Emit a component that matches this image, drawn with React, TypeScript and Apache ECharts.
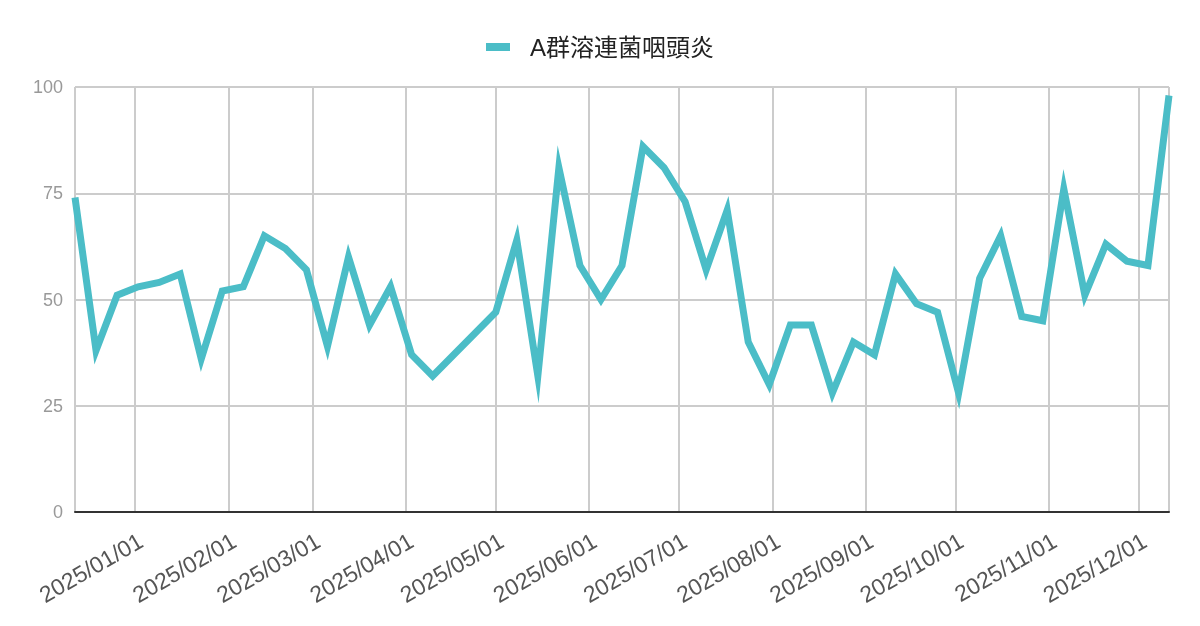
import {useEffect, useRef} from 'react';
import * as echarts from 'echarts';

const seriesName = 'A群溶連菌咽頭炎';

const weeks = [
    '2024-12-12', '2024-12-19', '2024-12-26',
    '2025-01-02', '2025-01-09', '2025-01-16', '2025-01-23', '2025-01-30',
    '2025-02-06', '2025-02-13', '2025-02-20', '2025-02-27',
    '2025-03-06', '2025-03-13', '2025-03-20', '2025-03-27',
    '2025-04-03', '2025-04-10', '2025-04-17', '2025-04-24',
    '2025-05-01', '2025-05-08', '2025-05-15', '2025-05-22', '2025-05-29',
    '2025-06-05', '2025-06-12', '2025-06-19', '2025-06-26',
    '2025-07-03', '2025-07-10', '2025-07-17', '2025-07-24', '2025-07-31',
    '2025-08-07', '2025-08-14', '2025-08-21', '2025-08-28',
    '2025-09-04', '2025-09-11', '2025-09-18', '2025-09-25',
    '2025-10-02', '2025-10-09', '2025-10-16', '2025-10-23', '2025-10-30',
    '2025-11-06', '2025-11-13', '2025-11-20', '2025-11-27',
    '2025-12-04', '2025-12-11'
];

const cases = [
    74, 38, 51,
    53, 54, 56, 36, 52,
    53, 65, 62, 57,
    39, 60, 44, 53,
    37, 32, 37, 42,
    47, 64, 32, 81, 58,
    50, 58, 86, 81,
    73, 57, 71, 40, 30,
    44, 44, 28, 40,
    37, 56, 49, 47,
    28, 55, 65, 46, 45,
    76, 51, 63, 59,
    58, 98
];

const yTicks = [0, 25, 50, 75, 100];

const LINE_COLOR = '#4bbdc7';
const FONT = '"Liberation Sans", Arial, "Noto Sans CJK JP", sans-serif';

export default function App() {
    const ref = useRef<HTMLDivElement | null>(null);

    useEffect(() => {
        if (!ref.current) return;
        const chart = echarts.init(ref.current, null, {renderer: 'svg'});
        chart.setOption({
            animation: false,
            textStyle: {fontFamily: FONT},
            legend: {
                top: 30,
                left: 'center',
                icon: 'rect',
                itemWidth: 24,
                itemHeight: 8,
                textStyle: {
                    fontSize: 24,
                    color: '#222',
                    padding: [0, 0, 0, 15],
                    fontFamily: FONT
                },
                data: [seriesName]
            },
            grid: {left: 75, right: 31, top: 87, bottom: 114},
            xAxis: {
                type: 'time',
                min: weeks[0],
                max: weeks[weeks.length - 1],
                splitNumber: 12,
                axisLine: {show: true, lineStyle: {color: '#333', width: 2}},
                axisTick: {show: false},
                splitLine: {show: true, lineStyle: {color: '#ccc', width: 2}},
                axisLabel: {
                    rotate: 30,
                    fontSize: 23,
                    color: '#555',
                    margin: 17,
                    verticalAlign: 'top',
                    formatter: '{yyyy}/{MM}/{dd}',
                    hideOverlap: false
                }
            },
            yAxis: {
                type: 'value',
                min: yTicks[0],
                max: yTicks[yTicks.length - 1],
                interval: 25,
                axisLine: {show: false},
                axisTick: {show: false},
                splitLine: {lineStyle: {color: '#ccc', width: 2}},
                axisLabel: {fontSize: 18, color: '#999', margin: 12}
            },
            series: [{
                name: seriesName,
                type: 'line',
                data: weeks.map((d, i) => [d, cases[i]]),
                showSymbol: false,
                symbol: 'none',
                lineStyle: {color: LINE_COLOR, width: 7, join: 'miter', miterLimit: 30},
                itemStyle: {color: LINE_COLOR}
            }]
        });
        return () => chart.dispose();
    }, []);

    return <div ref={ref} style={{position: 'fixed', left: 0, top: 0, width: 1200, height: 626}}/>;
}
